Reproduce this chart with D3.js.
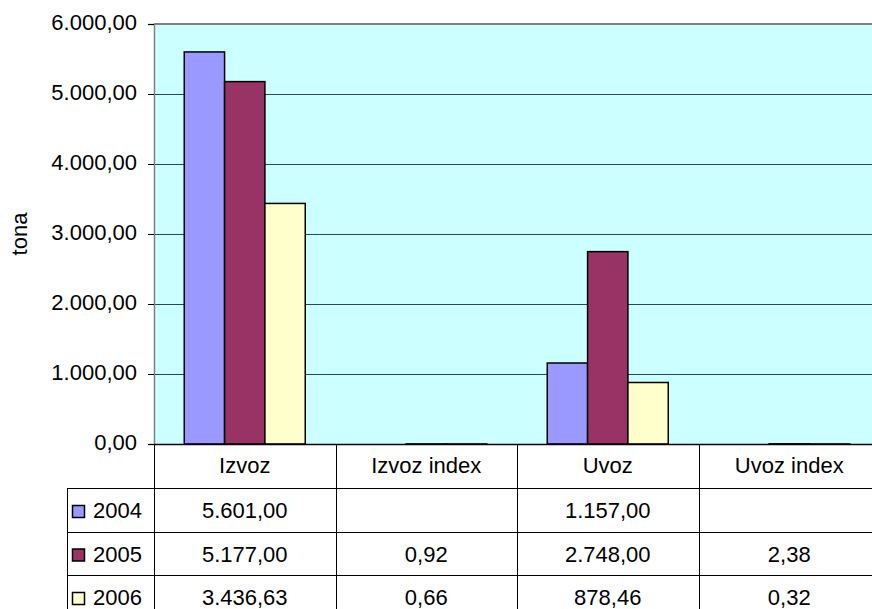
<!DOCTYPE html>
<html>
<head>
<meta charset="utf-8">
<script src="https://cdn.jsdelivr.net/npm/d3@7"></script>
<style>
  html, body { margin: 0; padding: 0; background: #fff; overflow: hidden; }
  svg { display: block; font-family: "Liberation Sans", Arial, sans-serif; }
</style>
</head>
<body>
<svg id="chart" width="872" height="609"></svg>
<script>
// ---- data ----
const categories = ["Izvoz", "Izvoz index", "Uvoz", "Uvoz index"];
const years = ["2004", "2005", "2006"];
const values2004 = [5601.00, null, 1157.00, null];
const values2005 = [5177.00, 0.92, 2748.00, 2.38];
const values2006 = [3436.63, 0.66, 878.46, 0.32];
const yTicks = [0, 1000, 2000, 3000, 4000, 5000, 6000];
const yLabel = "tona";
const colors = ["#9999FF", "#993366", "#FFFFCC"];

const series = [values2004, values2005, values2006];

const loc = d3.formatLocale({ decimal: ",", thousands: ".", grouping: [3], currency: ["", ""] });
const fmt = loc.format(",.2f");

const svg = d3.select("#chart");
const W = 872, H = 609;

const plotLeft = 154, plotTop = 24, plotBottom = 444;
const catW = 181.5;
const plotRight = plotLeft + categories.length * catW;

const x = d3.scaleBand().domain(categories).range([plotLeft, plotRight]).padding(0);
const xi = d3.scaleBand().domain(years).range([0, x.bandwidth()]).paddingInner(0).paddingOuter(0.75);
const y = d3.scaleLinear().domain([0, 6000]).range([plotBottom, plotTop]);

// plot background
svg.append("rect")
  .attr("x", plotLeft).attr("y", plotTop)
  .attr("width", plotRight - plotLeft).attr("height", plotBottom - plotTop)
  .attr("fill", "#CCFFFF");

// gridlines
svg.append("g").selectAll("line")
  .data(yTicks.filter(d => d > 0 && d < 6000))
  .join("line")
  .attr("x1", plotLeft).attr("x2", plotRight)
  .attr("y1", d => Math.round(y(d)) + 0.5).attr("y2", d => Math.round(y(d)) + 0.5)
  .attr("stroke", "#2a4a4a").attr("stroke-width", 1);

// top border
svg.append("line")
  .attr("x1", plotLeft).attr("x2", plotRight)
  .attr("y1", plotTop).attr("y2", plotTop)
  .attr("stroke", "#808080").attr("stroke-width", 2);

// bars
const barG = svg.append("g");
years.forEach((yr, si) => {
  barG.append("g").selectAll("rect")
    .data(categories.map((c, i) => ({ c, v: series[si][i] })).filter(d => d.v != null))
    .join("rect")
    .attr("x", d => x(d.c) + xi(yr))
    .attr("y", d => y(d.v))
    .attr("width", xi.bandwidth())
    .attr("height", d => y(0) - y(d.v))
    .attr("fill", colors[si])
    .attr("stroke", "#000")
    .attr("stroke-width", 1.5);
});

// y axis
const yAxis = d3.axisLeft(y).tickValues(yTicks).tickFormat(fmt).tickSize(6).tickPadding(11);
const ag = svg.append("g").attr("transform", `translate(${plotLeft},0)`).call(yAxis);
ag.select(".domain").attr("stroke", "#808080").attr("stroke-width", 1.5);
ag.selectAll(".tick line").attr("stroke", "#000");
ag.selectAll(".tick text")
  .attr("font-size", 22).attr("font-family", "Liberation Sans, Arial, sans-serif")
  .attr("fill", "#000").attr("dy", "0.27em");

// y label
svg.append("text")
  .attr("transform", `translate(27,${(plotTop + plotBottom) / 2}) rotate(-90)`)
  .attr("text-anchor", "middle")
  .attr("font-size", 22)
  .text(yLabel);

// ---- data table ----
const rowTops = [444, 488, 532, 575, 619];
const tableLeft = 67;
const tg = svg.append("g");

// baseline axis
tg.append("line").attr("x1", plotLeft).attr("x2", plotRight)
  .attr("y1", 444.5).attr("y2", 444.5).attr("stroke", "#000").attr("stroke-width", 1.5);

// horizontal lines
rowTops.slice(1).forEach(ry => {
  tg.append("line").attr("x1", tableLeft).attr("x2", plotRight)
    .attr("y1", ry + 0.5).attr("y2", ry + 0.5).attr("stroke", "#000");
});
// vertical lines
const colEdges = categories.map(c => x(c)).concat([plotRight]);
colEdges.forEach(cx => {
  tg.append("line").attr("x1", Math.round(cx) + 0.5).attr("x2", Math.round(cx) + 0.5)
    .attr("y1", 444).attr("y2", 619).attr("stroke", "#000");
});
tg.append("line").attr("x1", tableLeft + 0.5).attr("x2", tableLeft + 0.5)
  .attr("y1", 488).attr("y2", 619).attr("stroke", "#000");

// header
tg.selectAll("text.hdr").data(categories).join("text")
  .attr("class", "hdr")
  .attr("x", d => x(d) + x.bandwidth() / 2)
  .attr("y", (rowTops[0] + rowTops[1]) / 2 + 7)
  .attr("text-anchor", "middle")
  .attr("font-size", 22)
  .text(d => d);

// rows
years.forEach((yr, si) => {
  const top = rowTops[si + 1], bot = rowTops[si + 2];
  const base = (top + bot) / 2 + 8;
  tg.append("rect")
    .attr("x", 72.5).attr("y", base - 12.5)
    .attr("width", 12).attr("height", 12)
    .attr("fill", colors[si]).attr("stroke", "#000").attr("stroke-width", 1.5);
  tg.append("text").attr("x", 93).attr("y", base).attr("font-size", 22).text(yr);
  categories.forEach((c, ci) => {
    const v = series[si][ci];
    if (v == null) return;
    tg.append("text")
      .attr("x", x(c) + x.bandwidth() / 2)
      .attr("y", base)
      .attr("text-anchor", "middle")
      .attr("font-size", 22)
      .text(fmt(v));
  });
});
</script>
</body>
</html>
